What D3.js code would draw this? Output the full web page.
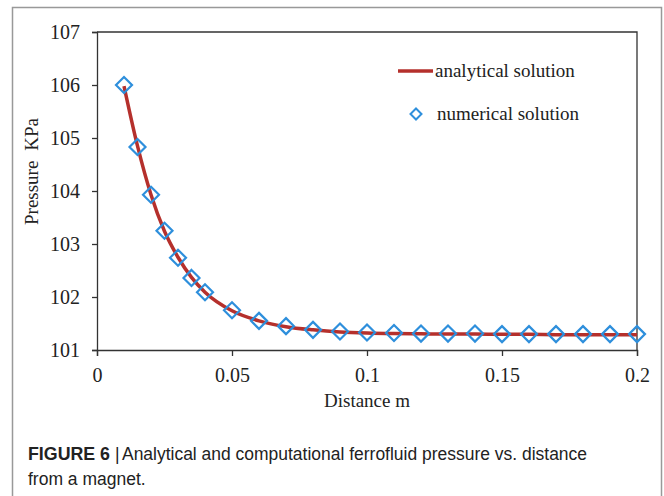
<!DOCTYPE html>
<html>
<head>
<meta charset="utf-8">
<script src="https://cdn.jsdelivr.net/npm/d3@7"></script>
<style>
  body { margin:0; background:#fff; }
  .tick text { font-family:"Liberation Serif","Times New Roman",serif; font-size:20px; fill:#222; }
  .lbl { font-family:"Liberation Serif","Times New Roman",serif; font-size:19px; fill:#222; }
  .cap { font-family:"Liberation Sans",Arial,sans-serif; font-size:17.5px; fill:#222; }
</style>
</head>
<body>
<svg id="chart" width="664" height="496"></svg>
<script>
// distance (m)
var distances = [0.01,0.015,0.02,0.025,0.03,0.035,0.04,0.05,0.06,0.07,0.08,0.09,0.1,
                 0.11,0.12,0.13,0.14,0.15,0.16,0.17,0.18,0.19,0.2];
// analytical pressure (KPa)
var analytical = [105.98,104.85,103.93,103.24,102.75,102.37,102.09,101.74,101.55,101.44,101.38,101.34,101.32,
                  101.31,101.305,101.3,101.3,101.295,101.295,101.29,101.29,101.29,101.29];
// numerical pressure (KPa)
var numerical = [106.0,104.83,103.93,103.25,102.74,102.36,102.09,101.75,101.55,101.45,101.38,101.35,101.33,
                 101.32,101.31,101.31,101.31,101.3,101.3,101.3,101.3,101.3,101.3];
var xTicks = [0,0.05,0.1,0.15,0.2];
var yTicks = [101,102,103,104,105,106,107];

var svg = d3.select("#chart");

// outer figure frame
svg.append("rect")
    .attr("x",12.5).attr("y",7.5)
    .attr("width",649).attr("height",500)
    .attr("fill","none").attr("stroke","#999").attr("stroke-width",1.5);

var margins = {top:32,left:97,right:27,bottom:146};
var graph = {width:664-margins.left-margins.right, height:496-margins.top-margins.bottom};

var xScale = d3.scaleLinear().domain([0,0.2]).range([0,graph.width]);
var yScale = d3.scaleLinear().domain([101,107]).range([graph.height,0]);

var g = svg.append("g")
    .attr("transform","translate("+margins.left+","+margins.top+")");

// frame top and right
g.append("path")
    .attr("d","M0,0H"+graph.width+"V"+graph.height)
    .attr("fill","none").attr("stroke","#333").attr("stroke-width",1.3);

var xAxis = g.append("g")
    .attr("transform","translate(0,"+graph.height+")")
    .call(d3.axisBottom(xScale).tickValues(xTicks).tickSize(6).tickPadding(12)
          .tickFormat(function(d){ return d3.format("")(+d.toFixed(2)); }));
var yAxis = g.append("g")
    .call(d3.axisLeft(yScale).tickValues(yTicks).tickSize(5).tickPadding(12).tickFormat(d3.format("d")));

[xAxis,yAxis].forEach(function(a){
    a.select(".domain").attr("stroke","#333").attr("stroke-width",1.3);
    a.selectAll(".tick line").attr("stroke","#333").attr("stroke-width",1.3);
});

// analytical line
var line = d3.line()
    .x(function(d,i){ return xScale(distances[i]); })
    .y(function(d){ return yScale(d); })
    .curve(d3.curveMonotoneX);

g.append("path")
    .datum(analytical)
    .attr("d",line)
    .attr("fill","none")
    .attr("stroke","#b5302c")
    .attr("stroke-width",3.5);

// numerical diamonds
var diamond = "M0,-8L8,0L0,8L-8,0Z";
g.selectAll(".pt")
    .data(numerical)
    .enter()
    .append("path")
    .attr("class","pt")
    .attr("d",diamond)
    .attr("transform",function(d,i){ return "translate("+xScale(distances[i])+","+yScale(d)+")"; })
    .attr("fill","none")
    .attr("stroke","#2e8fdc")
    .attr("stroke-width",2.2);

// legend
var legend = svg.append("g");
legend.append("line")
    .attr("x1",398).attr("x2",433).attr("y1",71).attr("y2",71)
    .attr("stroke","#b5302c").attr("stroke-width",3.5);
legend.append("text").attr("class","lbl").attr("x",435).attr("y",77).text("analytical solution");
legend.append("path")
    .attr("d","M0,-5.5L5.5,0L0,5.5L-5.5,0Z")
    .attr("transform","translate(416,114)")
    .attr("fill","none").attr("stroke","#2e8fdc").attr("stroke-width",2);
legend.append("text").attr("class","lbl").attr("x",437).attr("y",120).text("numerical solution");

// axis titles
var yTitle = svg.append("g").attr("transform","translate(38,0) rotate(-90)");
yTitle.append("text").attr("class","lbl").attr("x",-225).attr("y",0).text("Pressure");
yTitle.append("text").attr("class","lbl").attr("text-anchor","end").attr("x",-118).attr("y",0).text("KPa");
svg.append("text").attr("class","lbl")
    .attr("text-anchor","middle")
    .attr("x",margins.left+graph.width/2).attr("y",407)
    .text("Distance m");

// caption
svg.append("text").attr("class","cap").attr("x",28).attr("y",460)
    .attr("font-weight","bold").text("FIGURE 6")
    .attr("textLength",82).attr("lengthAdjust","spacingAndGlyphs");
svg.append("text").attr("class","cap").attr("x",115).attr("y",460).text("|");
svg.append("text").attr("class","cap").attr("x",122).attr("y",460)
    .text("Analytical and computational ferrofluid pressure vs. distance")
    .attr("textLength",465).attr("lengthAdjust","spacingAndGlyphs");
svg.append("text").attr("class","cap").attr("x",28).attr("y",485)
    .text("from a magnet.");
</script>
</body>
</html>
